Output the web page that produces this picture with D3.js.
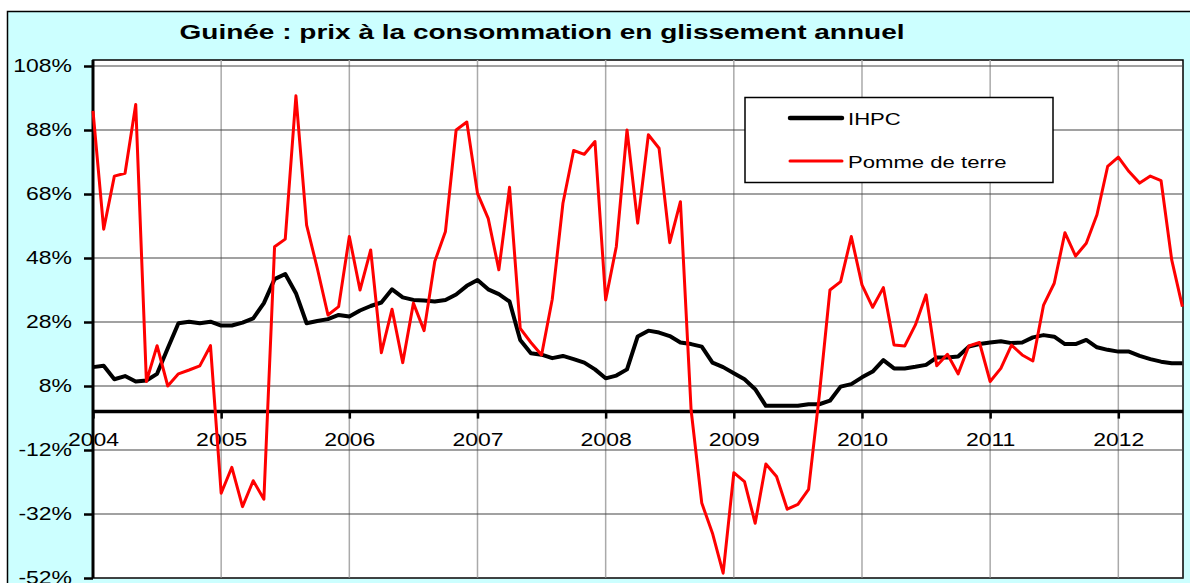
<!DOCTYPE html>
<html>
<head>
<meta charset="utf-8">
<script src="https://cdn.jsdelivr.net/npm/d3@7"></script>
<style>
  html, body { margin: 0; padding: 0; background: #fff; }
  svg { display: block; }
</style>
</head>
<body>
<div id="chart"></div>
<script>
// monthly year-on-year change, Jan 2004 .. Jul 2012
const title = "Guinée : prix à la consommation en glissement annuel";
const seriesNames = ["IHPC", "Pomme de terre"];
const yearLabels = ["2004", "2005", "2006", "2007", "2008", "2009", "2010", "2011", "2012"];
const yTicks = [108, 88, 68, 48, 28, 8, -12, -32, -52];

const ihpc = [13.9, 14.3, 10.1, 11.1, 9.4, 9.7, 11.8, 19.8, 27.6, 28.1, 27.6, 28.1,
  26.9, 26.9, 27.8, 29.1, 33.9, 41.4, 43, 37, 27.6, 28.3, 28.9, 30.2,
  29.7, 31.6, 33, 34.1, 38.2, 35.7, 34.9, 34.7, 34.4, 34.9, 36.6, 39.3,
  41.1, 38.2, 36.7, 34.4, 22.4, 18.2, 17.8, 16.7, 17.4, 16.4, 15.3, 13.2,
  10.4, 11.25, 13.2, 23.5, 25.3, 24.7, 23.6, 21.6, 21.1, 20.3, 15.3, 13.9,
  12, 10.1, 7, 1.8, 1.8, 1.8, 1.8, 2.3, 2.3, 3.4, 7.8, 8.6,
  10.7, 12.5, 16.1, 13.5, 13.5, 14, 14.6, 16.9, 16.9, 17.2, 20.3, 21.1,
  21.6, 22, 21.4, 21.6, 23.2, 23.9, 23.4, 21.1, 21.1, 22.4, 20.1, 19.3,
  18.75, 18.75, 17.4, 16.4, 15.6, 15.1, 15.1];

const pomme = [94, 57, 73.6, 74.5, 96, 9.4, 20.6, 8, 11.8, 13, 14.3, 20.6,
  -25.5, -17.4, -29.7, -21.6, -27.4, 51.5, 53.9, 98.7, 58.3, 44.8, 30.2, 32.8,
  54.7, 38, 50.5, 18.4, 32, 15.3, 33.9, 25.3, 46.9, 56.3, 88, 90.5,
  68.2, 60.4, 44.3, 70.1, 26, 21.6, 17.7, 35.1, 65.1, 81.6, 80.4, 84.4,
  34.9, 51.6, 88, 58.9, 86.5, 82.3, 52.8, 65.6, 0.5, -28.6, -38, -50.5,
  -19.1, -21.9, -34.9, -16.4, -20.3, -30.5, -29, -24.3, 5, 38, 40.6, 54.7,
  39.6, 32.6, 38.75, 20.8, 20.5, 27.1, 36.5, 14.3, 17.9, 11.8, 20.5, 21.6,
  9.4, 13.5, 20.8, 17.7, 15.8, 33.3, 40.1, 55.9, 48.6, 52.6, 61.5, 76.6,
  79.5, 75, 71.4, 73.6, 72.2, 47.4, 32.8];

const W = 1190, H = 583;
const plot = { left: 93, right: 1183, top: 60, bottom: 578 };
const font = "Arial, 'Liberation Sans', sans-serif";

// stretch text horizontally like the original picture
function stretch(sel, k) {
  sel.each(function() {
    const len = this.getComputedTextLength();
    d3.select(this).attr("textLength", len * k).attr("lengthAdjust", "spacingAndGlyphs");
  });
}

const svg = d3.select("#chart").append("svg")
    .attr("width", W).attr("height", H);

svg.append("rect")
    .attr("x", 7.5).attr("y", 11.5)
    .attr("width", W + 10).attr("height", H + 10)
    .attr("fill", "#ccffff").attr("stroke", "#000").attr("stroke-width", 1.5);

const x = d3.scaleLinear().domain([0, ihpc.length - 1]).range([plot.left, 1182.4]);
const y = d3.scaleLinear().domain([-52, 108]).range([578, 66]);

svg.append("rect")
    .attr("x", plot.left).attr("y", plot.top)
    .attr("width", plot.right - plot.left).attr("height", plot.bottom - plot.top)
    .attr("fill", "#fff").attr("stroke", "#000").attr("stroke-width", 1.5);

// gridlines
svg.append("g")
  .selectAll("line")
  .data(yearLabels.slice(1))
  .join("line")
    .attr("x1", (d, i) => x((i + 1) * 12)).attr("x2", (d, i) => x((i + 1) * 12))
    .attr("y1", plot.top).attr("y2", plot.bottom)
    .attr("stroke", "#aaa").attr("stroke-width", 1.5);

svg.append("g")
  .selectAll("line")
  .data(yTicks)
  .join("line")
    .attr("x1", plot.left).attr("x2", plot.right)
    .attr("y1", d => y(d)).attr("y2", d => y(d))
    .attr("stroke", "#444").attr("stroke-width", 1.2);

// y axis
const yAxis = svg.append("g")
    .attr("transform", `translate(${plot.left},0)`)
    .call(d3.axisLeft(y).tickValues(yTicks).tickFormat(d => d + "%").tickSize(9).tickPadding(12));
yAxis.select(".domain").attr("stroke-width", 3).attr("d", `M0,${plot.top}V${plot.bottom}`);
yAxis.selectAll(".tick line").attr("stroke-width", 2.5);
yAxis.selectAll("text").attr("font-family", font).attr("font-size", 18.5).attr("fill", "#000")
    .call(stretch, 1.24);

// x axis at 0%
const xAxis = svg.append("g")
    .attr("transform", `translate(0,${y(0)})`)
    .call(d3.axisBottom(x).tickValues(yearLabels.map((d, i) => i * 12))
      .tickFormat((d, i) => yearLabels[i]).tickSize(7));
xAxis.select(".domain").attr("stroke-width", 3.5).attr("d", `M${plot.left},0H${plot.right}`);
xAxis.selectAll(".tick line").attr("stroke-width", 2.5);
xAxis.selectAll("text").attr("font-family", font).attr("font-size", 17.7).attr("fill", "#000")
    .attr("y", 34.5).attr("dy", 0)
    .call(stretch, 1.3);

// series
const line = d3.line().x((d, i) => x(i)).y(d => y(d));

svg.append("path")
    .datum(ihpc)
    .attr("fill", "none").attr("stroke", "#000").attr("stroke-width", 4)
    .attr("stroke-linejoin", "round")
    .attr("d", line);

svg.append("path")
    .datum(pomme)
    .attr("fill", "none").attr("stroke", "#ff0000").attr("stroke-width", 3)
    .attr("stroke-linejoin", "round")
    .attr("d", line);

// title
svg.append("text")
    .attr("x", 542).attr("y", 39)
    .attr("text-anchor", "middle")
    .attr("font-family", font).attr("font-weight", "bold").attr("font-size", 21)
    .attr("textLength", 725).attr("lengthAdjust", "spacingAndGlyphs")
    .text(title);

// legend
const legend = svg.append("g");
legend.append("rect")
    .attr("x", 745).attr("y", 97.5).attr("width", 308).attr("height", 85)
    .attr("fill", "#fff").attr("stroke", "#000").attr("stroke-width", 1.5);

const legendRows = legend.selectAll("g.row")
  .data(seriesNames)
  .join("g")
    .attr("class", "row")
    .attr("transform", (d, i) => `translate(790,${i ? 161 : 118})`);

legendRows.append("line")
    .attr("x1", 0).attr("x2", 52)
    .attr("stroke", (d, i) => i ? "#ff0000" : "#000")
    .attr("stroke-width", (d, i) => i ? 3 : 4.5)
    .attr("stroke-linecap", "round");

legendRows.append("text")
    .attr("x", 58).attr("y", 6.5)
    .attr("font-family", font).attr("font-size", 17)
    .text(d => d)
    .call(stretch, 1.3);
</script>
</body>
</html>
